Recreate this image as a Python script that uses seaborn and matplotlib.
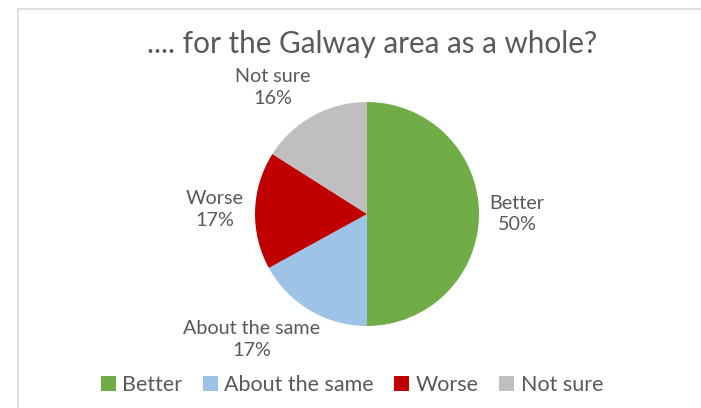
import numpy as np
import matplotlib
matplotlib.use("Agg")
import matplotlib.pyplot as plt
import matplotlib.patches as mpatches
import seaborn as sns

# ---- data ----
categories = ["Better", "About the same", "Worse", "Not sure"]
values = [50, 17, 17, 16]
pct_labels = ["50%", "17%", "17%", "16%"]
colors = ["#70AD47", "#9DC3E6", "#C00000", "#BFBFBF"]
title = ".... for the Galway area as a whole?"

sns.set_theme(style="white")
plt.rcParams["font.family"] = ["Lato", "DejaVu Sans"]
TXT = "#595959"

W, H = 701, 408
fig = plt.figure(figsize=(W / 100, H / 100), dpi=100)
fig.patch.set_facecolor("white")

# chart frame (partially visible)
fig.add_artist(mpatches.Rectangle((18 / W, -0.1), 1.2, (H - 9) / H + 0.1,
                                  transform=fig.transFigure, fill=False,
                                  edgecolor="#D9D9D9", linewidth=1.2))

cx, cy, r = 367, 214, 112
ax = fig.add_axes([(cx - r) / W, (H - cy - r) / H, 2 * r / W, 2 * r / H])
wedges, _ = ax.pie(values, colors=colors, startangle=90, counterclock=False,
                   radius=1, wedgeprops=dict(linewidth=0))
ax.set_xlim(-1, 1)
ax.set_ylim(-1, 1)
ax.set_aspect("equal")
ax.axis("off")

# data labels (layout: distance, angle offsets per label)
label_pos = [(1.34, 0.0), (1.52, -12.0), (1.36, 0.0), (1.41, 8.0)]
for w, cat, pct, (dist, dang) in zip(wedges, categories, pct_labels, label_pos):
    ang = np.deg2rad((w.theta1 + w.theta2) / 2 + dang)
    ax.text(dist * np.cos(ang), dist * np.sin(ang), f"{cat}\n{pct}",
            ha="center", va="center", fontsize=14.2, color=TXT,
            linespacing=1.35, clip_on=False)

fig.text(372 / W, 1 - 44 / H, title, ha="center", va="center",
         fontsize=21.3, color=TXT)

handles = [mpatches.Patch(facecolor=c, edgecolor="none", label=l)
           for c, l in zip(colors, categories)]
fig.legend(handles=handles, loc="center", bbox_to_anchor=(352 / W, 1 - 385 / H),
           ncol=4, frameon=False, fontsize=15.5, labelcolor=TXT,
           handlelength=0.7, handleheight=0.7, handletextpad=0.3,
           columnspacing=0.95)

fig.savefig("out.png", dpi=100, facecolor="white")
